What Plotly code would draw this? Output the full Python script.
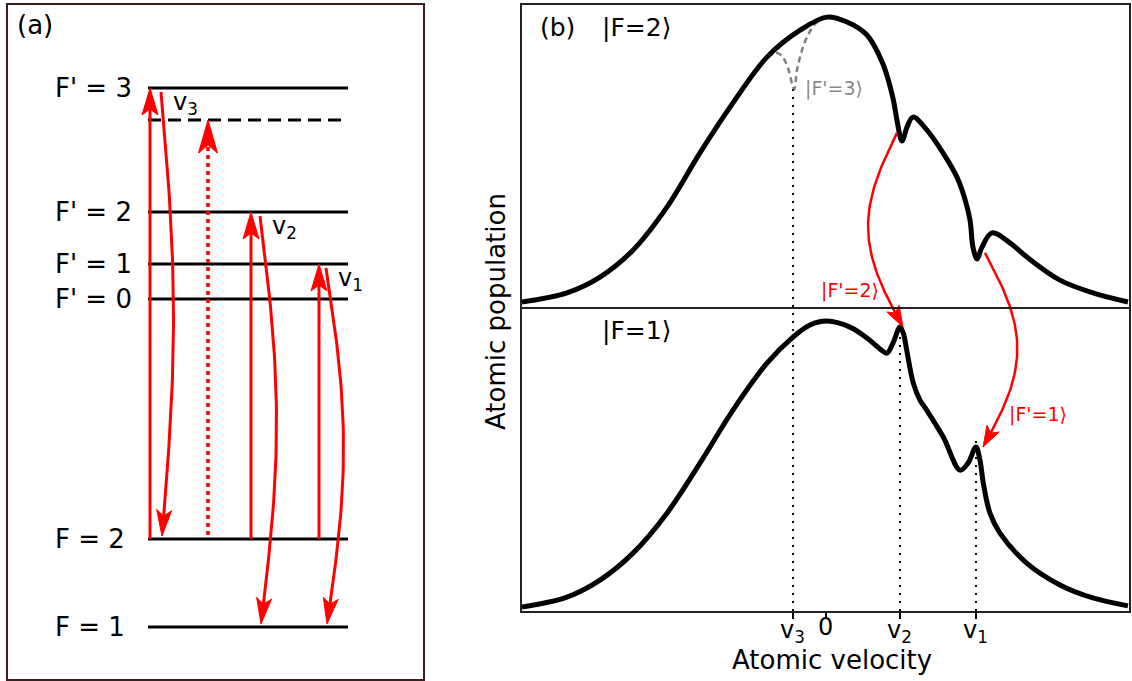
import numpy as np
import plotly.graph_objects as go

W, H = 1132, 681
RED = "#ff0000"
FONT = "DejaVu Sans"

# ---------------- panel (b): velocity distributions ----------------
# hyperfine ground state |F=2> (depleted around v2 and v1)
velocity_f2 = [-4.108, -3.500, -3.054, -2.608, -2.149, -1.703, -1.257, -0.797, -0.351,
               0.014, 0.284, 0.554, 0.770, 0.905, 0.959, 1.027, 1.095, 1.176, 1.365,
               1.581, 1.770, 1.851, 1.946, 1.986, 2.041, 2.108, 2.243, 2.486, 2.716,
               3.162, 3.608, 4.081]
population_f2 = [0.020, 0.050, 0.102, 0.191, 0.333, 0.512, 0.677, 0.828, 0.917,
                 0.960, 0.944, 0.901, 0.805, 0.693, 0.620, 0.551, 0.597, 0.630, 0.587,
                 0.512, 0.432, 0.380, 0.290, 0.201, 0.162, 0.201, 0.248, 0.215, 0.168,
                 0.092, 0.050, 0.020]

# hyperfine ground state |F=1> (enhanced at v2 and v1)
velocity_f1 = [-4.108, -3.500, -3.054, -2.608, -2.149, -1.703, -1.257, -0.797, -0.446,
               -0.216, 0.014, 0.324, 0.554, 0.730, 0.824, 0.905, 1.000, 1.045, 1.091,
               1.180, 1.270, 1.361, 1.585, 1.811, 1.919, 2.027, 2.081, 2.126, 2.216,
               2.351, 2.712, 3.162, 3.608, 4.081]
population_f1 = [0.013, 0.046, 0.102, 0.191, 0.323, 0.488, 0.663, 0.818, 0.904,
                 0.944, 0.957, 0.937, 0.901, 0.865, 0.851, 0.884, 0.937, 0.917, 0.861,
                 0.752, 0.696, 0.663, 0.574, 0.465, 0.488, 0.541, 0.498, 0.422, 0.323,
                 0.257, 0.158, 0.086, 0.043, 0.017]

# closed F=2 -> F'=3 transition: hole that is not transferred
velocity_hole = [-0.797, -0.676, -0.595, -0.514, -0.430, -0.392, -0.324, -0.243, -0.149, -0.027]
population_hole = [0.828, 0.842, 0.832, 0.792, 0.722, 0.785, 0.851, 0.901, 0.937, 0.957]

V3, V2, V1 = -0.446, 1.0, 2.027
tick_values = [V3, 0.0, V2, V1]
tick_labels = ["v<sub>3</sub>", "0", "v<sub>2</sub>", "v<sub>1</sub>"]

# upper panel is drawn with an offset of one unit on the shared axis
OFFSET = 1.0
XR_B = [-4.108, 4.095]
YR_B = [0.0, 2.0]
SX_B, SY_B = 74.0, 303.0  # pixels per unit

# ---------------- panel (a): level scheme ----------------
level_names = ["F = 1", "F = 2", "F' = 0", "F' = 1", "F' = 2", "F' = 3"]
level_energy = [0.0, 8.8, 32.8, 36.3, 41.5, 53.9]
crossover_energy = 50.7
LEVEL_X = [14.0, 34.0]

# pumping from F=2 to F'=3, F'=2, F'=1 and the decays that follow
pump_x = [14.2, 24.3, 31.1]
pump_upper = ["F' = 3", "F' = 2", "F' = 1"]
decay_x = [15.3, 25.2, 31.8]
decay_lower = ["F = 2", "F = 1", "F = 1"]
decay_bulge = [1.2, 1.6, 1.7]
crossover_x = 20.0
nu_labels = ["v<sub>3</sub>", "v<sub>2</sub>", "v<sub>1</sub>"]

XR_A = [0.0, 41.5]
YR_A = [-5.2, 62.2]
SX_A, SY_A = 10.0, 10.0

E = dict(zip(level_names, level_energy))


def arc(x0, y0, x1, y1, bulge, n=60):
    t = np.linspace(0, 1, n)
    x = x0 + (x1 - x0) * t + bulge * np.sin(np.pi * t)
    y = y0 + (y1 - y0) * t
    return x, y, (x1 - x0) - bulge * np.pi, (y1 - y0)


def head(xt, yt, dx, dy, sx, sy, length=24.0, half=7.5, notch=6.0):
    """Stealth arrow head; direction (dx, dy) is given in data units."""
    px, py = dx * sx, dy * sy
    n = np.hypot(px, py)
    ux, uy = px / n, py / n
    nx, ny = -uy, ux
    pts = [(0, 0),
           (-length * ux + half * nx, -length * uy + half * ny),
           (-(length - notch) * ux, -(length - notch) * uy),
           (-length * ux - half * nx, -length * uy - half * ny),
           (0, 0)]
    hx = [xt + p[0] / sx for p in pts]
    hy = [yt + p[1] / sy for p in pts]
    back = (xt - (length - notch) * ux / sx, yt - (length - notch) * uy / sy)
    return hx, hy, back


def trim(x, y, xt, yt, back, sx, sy, dist):
    x = np.asarray(x); y = np.asarray(y)
    d = np.hypot((x - xt) * sx, (y - yt) * sy)
    keep = d > dist
    return list(x[keep]) + [back[0]], list(y[keep]) + [back[1]]


fig = go.Figure()


def add_arrow(x, y, dx, dy, xa, ya, sx, sy, width, dash="solid",
              length=24.0, half=7.5, notch=6.0):
    xt, yt = x[-1], y[-1]
    hx, hy, back = head(xt, yt, dx, dy, sx, sy, length, half, notch)
    bx, by = trim(x, y, xt, yt, back, sx, sy, length - notch)
    fig.add_trace(go.Scatter(x=bx, y=by, mode="lines", xaxis=xa, yaxis=ya,
                             line=dict(color=RED, width=width, dash=dash),
                             hoverinfo="skip"))
    fig.add_trace(go.Scatter(x=hx, y=hy, mode="lines", fill="toself",
                             fillcolor=RED, xaxis=xa, yaxis=ya,
                             line=dict(color=RED, width=1), hoverinfo="skip"))


# ---- panel (a) levels
for name in level_names:
    fig.add_trace(go.Scatter(x=LEVEL_X, y=[E[name], E[name]], mode="lines",
                             xaxis="x2", yaxis="y2",
                             line=dict(color="black", width=3.2), hoverinfo="skip"))
fig.add_trace(go.Scatter(x=LEVEL_X, y=[crossover_energy] * 2, mode="lines",
                         xaxis="x2", yaxis="y2",
                         line=dict(color="black", width=3, dash="13px,7px"),
                         hoverinfo="skip"))

# ---- panel (a) pump arrows
for xp, up in zip(pump_x, pump_upper):
    add_arrow([xp, xp], [E["F = 2"], E[up]], 0, 1, "x2", "y2", SX_A, SY_A, 3,
              length=27, half=8, notch=6)
add_arrow([crossover_x, crossover_x], [E["F = 2"] + 0.4, crossover_energy], 0, 1,
          "x2", "y2", SX_A, SY_A, 3.5, dash="4px,4px", length=33, half=9.5, notch=8)

# ---- panel (a) spontaneous decays
for xd, up, lo, b in zip(decay_x, pump_upper, decay_lower, decay_bulge):
    ax_, ay_, dx, dy = arc(xd, E[up] - 0.4, xd + 0.1, E[lo] + 0.3, b)
    add_arrow(list(ax_), list(ay_), dx, dy, "x2", "y2", SX_A, SY_A, 3,
              length=26, half=7.5, notch=6)

# ---- panel (b) curves
fig.add_trace(go.Scatter(x=velocity_hole, y=[p + OFFSET for p in population_hole],
                         mode="lines", line=dict(color="#808080", width=2.5,
                                                 dash="6px,4px", shape="spline"),
                         hoverinfo="skip"))
fig.add_trace(go.Scatter(x=velocity_f2, y=[p + OFFSET for p in population_f2],
                         mode="lines", line=dict(color="black", width=5,
                                                 shape="spline", smoothing=1.0),
                         hoverinfo="skip"))
fig.add_trace(go.Scatter(x=velocity_f1, y=population_f1, mode="lines",
                         line=dict(color="black", width=5, shape="spline",
                                   smoothing=1.0),
                         hoverinfo="skip"))

# dotted markers of the resonant velocity classes
dot_tops = [OFFSET + min(population_hole), max(population_f1[14:20]), max(population_f1[22:28])]
for v, top in zip([V3, V2, V1], dot_tops):
    fig.add_trace(go.Scatter(x=[v, v], y=[0, top], mode="lines",
                             line=dict(color="black", width=2, dash="2px,6px"),
                             hoverinfo="skip"))

# optical pumping F=2 -> F=1 via F'=2 and F'=1
p_start = [(0.959, OFFSET + 0.578), (2.149, OFFSET + 0.182)]
p_end = [(1.041, 0.937), (2.122, 0.541)]
p_bulge = [-0.43, 0.45]
for (x0, y0), (x1, y1), b in zip(p_start, p_end, p_bulge):
    ax_, ay_, dx, dy = arc(x0, y0, x1, y1, b)
    add_arrow(list(ax_), list(ay_), dx, dy, "x", "y", SX_B, SY_B, 2.5,
              length=21, half=7, notch=5)

fig.add_shape(type="line", xref="x domain", x0=0, x1=1, yref="y", y0=OFFSET, y1=OFFSET,
              line=dict(color="#222", width=2))

annotations = []


def txt(text, x, y, size, xref="paper", yref="paper", color="black",
        xanchor="left", yanchor="middle", angle=0):
    annotations.append(dict(text=text, x=x, y=y, xref=xref, yref=yref,
                            showarrow=False, xanchor=xanchor, yanchor=yanchor,
                            textangle=angle,
                            font=dict(family=FONT, size=size, color=color)))


# panel (a) text
txt("(a)", 15 / W, 1 - 25 / H, 26)
for name in level_names:
    txt(name, 4.5, E[name], 26, xref="x2", yref="y2")
for lab, xd, up in zip(nu_labels, decay_x, pump_upper):
    txt(lab, xd + 1.0, E[up] - 1.6, 24, xref="x2", yref="y2")

# panel (b) text
txt("(b)", 538 / W, 1 - 28 / H, 25)
txt("|F=2⟩", 600 / W, 1 - 28 / H, 25)
txt("|F=1⟩", 600 / W, 1 - 330 / H, 25)
txt("|F'=3⟩", -0.31, OFFSET + 0.726, 19, xref="x", yref="y", color="#888888")
txt("|F'=2⟩", 0.74, 1.059, 19, xref="x", yref="y", color=RED, xanchor="right")
txt("|F'=1⟩", 2.44, 0.647, 19, xref="x", yref="y", color=RED)
# velocity tick labels, set close under the axis
for v, lab in zip(tick_values, tick_labels):
    off = 0 if lab == "0" else 4
    txt(lab, v, 1 - (627 + off) / H, 24, xref="x", xanchor="center")
txt("Atomic velocity", 832 / W, 1 - 660 / H, 26, xanchor="center")
txt("Atomic population", 496 / W, 1 - 312 / H, 26, xanchor="center", angle=-90)

fig.update_layout(
    width=W, height=H, autosize=False,
    margin=dict(l=0, r=0, t=0, b=0),
    paper_bgcolor="white", plot_bgcolor="white",
    showlegend=False,
    font=dict(family=FONT, color="black"),
    annotations=annotations,
    xaxis=dict(domain=[522 / W, 1129 / W], range=XR_B, anchor="y",
               showgrid=False, zeroline=False, showline=True, mirror=True,
               linecolor="#222", linewidth=2,
               tickmode="array", tickvals=tick_values, ticktext=[""] * len(tick_values),
               ticks="outside", ticklen=6, tickwidth=2, tickcolor="black"),
    yaxis=dict(domain=[1 - 611 / H, 1 - 5 / H], range=YR_B, anchor="x",
               showgrid=False, zeroline=False, showline=True, mirror=True,
               linecolor="#222", linewidth=2, showticklabels=False, ticks=""),
    xaxis2=dict(domain=[8 / W, 423 / W], range=XR_A, anchor="y2",
                showgrid=False, zeroline=False, showline=True, mirror=True,
                linecolor="#3b1f1f", linewidth=2, showticklabels=False, ticks=""),
    yaxis2=dict(domain=[1 - 679 / H, 1 - 5 / H], range=YR_A, anchor="x2",
                showgrid=False, zeroline=False, showline=True, mirror=True,
                linecolor="#3b1f1f", linewidth=2, showticklabels=False, ticks=""),
)

fig.write_html("out.html")
